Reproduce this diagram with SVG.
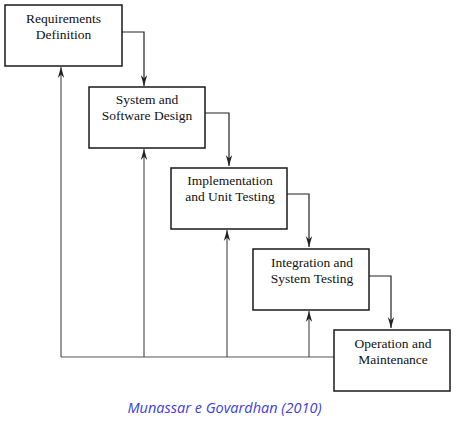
<svg xmlns="http://www.w3.org/2000/svg" width="459" height="429" viewBox="0 0 459 429">
<style>
.box{fill:#fff;stroke:#1a1a1a;stroke-width:1.5}
.lbl{font-family:"Liberation Serif","Times New Roman",serif;font-size:13.5px;fill:#111;text-anchor:middle}
.fw{fill:none;stroke:#222;stroke-width:1.2}
.bk{fill:none;stroke:#555;stroke-width:1.2}
.cap{font-family:"Open Sans","Noto Sans",sans-serif;font-style:italic;font-size:14.5px;fill:#4040d8;text-anchor:middle}
</style>
<defs>
<marker id="ah" viewBox="-12 -4 13 8" refX="0" refY="0" markerWidth="13" markerHeight="8" markerUnits="userSpaceOnUse" orient="auto">
<path d="M0,0 L-11,-3.2 L-7.5,0 L-11,3.2 Z" fill="#222"/>
</marker>
</defs>
<g id="connectors">
<path class="fw" d="M122,32 H144 V86" marker-end="url(#ah)"/>
<path class="fw" d="M205,113 H229 V166" marker-end="url(#ah)"/>
<path class="fw" d="M287,194 H309 V247" marker-end="url(#ah)"/>
<path class="fw" d="M369,276 H391 V328" marker-end="url(#ah)"/>
<path class="bk" d="M334,357 H61"/>
<path class="bk" d="M61,357 V67" marker-end="url(#ah)"/>
<path class="bk" d="M144,357 V149" marker-end="url(#ah)"/>
<path class="bk" d="M227,357 V230" marker-end="url(#ah)"/>
<path class="bk" d="M309,357 V311" marker-end="url(#ah)"/>
</g>
<g id="n1"><rect class="box" x="5" y="5" width="117" height="61"/><text class="lbl" x="63.5" y="23">Requirements</text><text class="lbl" x="63.5" y="39">Definition</text></g>
<g id="n2"><rect class="box" x="89" y="87" width="116" height="61"/><text class="lbl" x="147" y="104">System and</text><text class="lbl" x="147" y="120">Software Design</text></g>
<g id="n3"><rect class="box" x="171" y="168" width="116" height="61"/><text class="lbl" x="230" y="185">Implementation</text><text class="lbl" x="230" y="201">and Unit Testing</text></g>
<g id="n4"><rect class="box" x="253" y="249" width="116" height="61"/><text class="lbl" x="312" y="267">Integration and</text><text class="lbl" x="312" y="283">System Testing</text></g>
<g id="n5"><rect class="box" x="334" y="330" width="116" height="61"/><text class="lbl" x="393" y="348">Operation and</text><text class="lbl" x="393" y="364">Maintenance</text></g>
<text class="cap" x="224.5" y="413">Munassar e Govardhan (2010)</text>
</svg>
